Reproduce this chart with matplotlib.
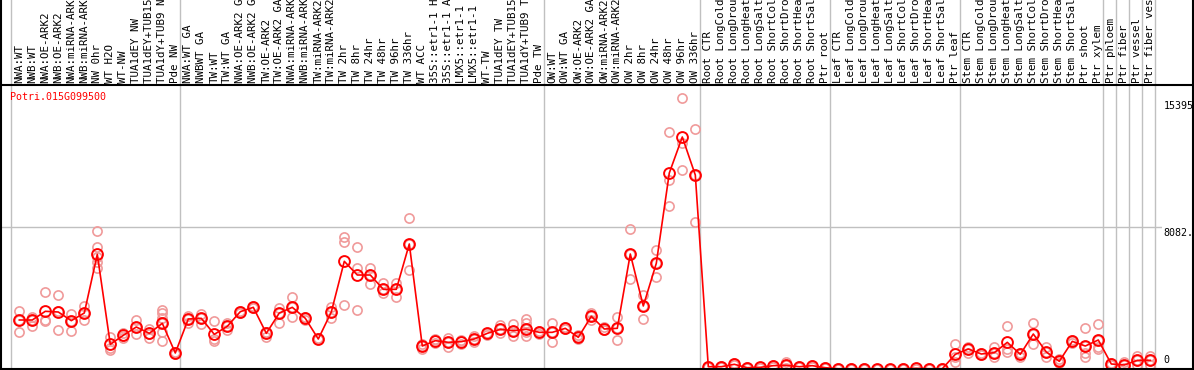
import numpy as np
import matplotlib
matplotlib.use('Agg')
import matplotlib.pyplot as plt
from matplotlib.lines import Line2D

gene = 'Potri.015G099500'

labels = [
    'NWA:WT', 'NWB:WT', 'NWA:OE-ARK2', 'NWB:OE-ARK2', 'NWA:miRNA-ARK2', 'NWB:miRNA-ARK2',
    'NW 0hr', 'WT H2O', 'WT-NW', 'TUA1dEY NW', 'TUA1dEY+TUB15 NW', 'TUA1dY+TUB9 NW', 'Pde NW',
    'NWA:WT GA', 'NWBWT GA', 'TW:WT', 'TW:WT GA', 'NWA:OE-ARK2 GA', 'NWB:OE-ARK2 GA',
    'TW:OE-ARK2', 'TW:OE-ARK2 GA', 'NWA:miRNA-ARK2 GA', 'NWB:miRNA-ARK2 GA', 'TW:miRNA-ARK2',
    'TW:miRNA-ARK2 GA', 'TW 2hr', 'TW 8hr', 'TW 24hr', 'TW 48hr', 'TW 96hr', 'TW 336hr', 'WT ACC',
    '35S::etr1-1 H2O', '35S::etr1-1 ACC', 'LMX5::etr1-1 H2O', 'LMX5::etr1-1 ACC', 'WT-TW',
    'TUA1dEY TW', 'TUA1dEY+TUB15 TW', 'TUA1dY+TUB9 TW', 'Pde TW',
    'OW:WT', 'OW:WT GA', 'OW:OE-ARK2', 'OW:OE-ARK2 GA', 'OW:miRNA-ARK2', 'OW:miRNA-ARK2 GA',
    'OW 2hr', 'OW 8hr', 'OW 24hr', 'OW 48hr', 'OW 96hr', 'OW 336hr',
    'Root CTR', 'Root LongCold', 'Root LongDrought', 'Root LongHeat', 'Root LongSalt',
    'Root ShortCold', 'Root ShortDrought', 'Root ShortHeat', 'Root ShortSalt', 'Ptr root',
    'Leaf CTR', 'Leaf LongCold', 'Leaf LongDrought', 'Leaf LongHeat', 'Leaf LongSalt',
    'Leaf ShortCold', 'Leaf ShortDrought', 'Leaf ShortHeat', 'Leaf ShortSalt', 'Ptr leaf',
    'Stem CTR', 'Stem LongCold', 'Stem LongDrought', 'Stem LongHeat', 'Stem LongSalt',
    'Stem ShortCold', 'Stem ShortDrought', 'Stem ShortHeat', 'Stem ShortSalt', 'Ptr shoot',
    'Ptr xylem', 'Ptr phloem', 'Ptr fiber', 'Ptr vessel', 'Ptr fiber vessel',
]

# first column of each sample group
group_starts = [0, 13, 41, 53, 63, 73, 84, 85, 86, 87]

means = [
    2789, 2789, 3284, 3244, 2751, 3187, 6528, 1404, 1916, 2391, 2030, 2600, 911,
    2846, 2884, 1973, 2429, 3263, 3510, 2030, 3187, 3510, 2884, 1708, 3244, 6128,
    5350, 5350, 4535, 4535, 7115, 1309, 1612, 1518, 1556, 1708, 2030, 2258, 2182,
    2258, 2087,
    2087, 2315, 1802, 2998, 2277, 2315, 6545, 3586, 6015, 11156, 13205, 11042,
    131, 131, 267, 74, 95, 190, 209, 131, 190, 74,
    15, 15, 15, 10, 10, 15, 40, 15, 15, 835,
    1138, 854, 930, 1518, 835, 1992, 968, 437, 1575, 1309, 1651,
    285, 228, 493, 493,
]

reps = [
    [3301, 2789, 2089], [2977, 2789, 2465], [4366, 2789, 2732], [4212, 2220, 3300],
    [3131, 2751, 2146], [3586, 3204, 2789], [7838, 6944, 6400, 6108, 5732],
    [1839, 1178, 1081], [2066, 1878, 1747], [2789, 2391, 1975], [2294, 2009, 1747],
    [3358, 3170, 2886, 2601, 2123, 1594], [880, 911, 940],
    [3000, 2846, 2600], [3131, 2884, 2580], [2732, 1708, 1612], [2600, 2448, 2220],
    [3320, 3263, 3200], [3570, 3510, 3450], [2127, 2030, 1840], [3472, 3170, 2601],
    [4081, 3510, 2977], [2960, 2884, 2790], [1740, 1708, 1680], [3548, 3244, 2884],
    [7531, 7246, 3643], [6944, 5732, 3358], [5732, 5350, 4821], [4878, 4535, 4309],
    [4915, 4535, 4115], [8578, 7115, 5635], [1400, 1309, 1120], [1690, 1650, 1500],
    [1746, 1518, 1270], [1670, 1600, 1400], [1900, 1708, 1556], [2070, 2070, 1950],
    [2487, 2258, 2030], [2544, 2182, 1898], [2828, 2600, 2258, 2100, 1895],
    [2180, 2087, 2000],
    [2601, 2087, 1518], [2380, 2315, 2250], [1950, 1802, 1700], [3180, 2998, 2790],
    [2370, 2240, 2220], [2940, 2315, 1651], [7951, 6545, 5106], [4212, 3586, 2828],
    [6773, 6015, 5236], [13473, 10758, 9278], [15408, 12847, 11327],
    [13643, 11042, 8350],
    [160, 131, 100], [180, 131, 90], [330, 267, 200], [110, 74, 40], [130, 95, 60],
    [250, 190, 130], [381, 209, 40], [170, 131, 90], [250, 190, 130], [110, 74, 40],
    [30, 15, 5], [30, 15, 5], [30, 15, 5], [20, 10, 5], [20, 10, 5], [30, 15, 5],
    [70, 40, 20], [30, 15, 5], [30, 15, 5], [1423, 700, 380],
    [1271, 1138, 892], [900, 854, 800], [1271, 930, 690], [2448, 1138, 970],
    [930, 835, 670], [2600, 1992, 1404], [1271, 968, 690], [550, 437, 320],
    [1670, 1575, 1480], [2315, 1309, 892, 702], [2543, 1651, 1271, 1138],
    [320, 285, 250], [399, 228, 60], [740, 493, 250], [740, 493, 250],
]

ytick_top = 15395
ytick_labels = ['15395', '8082.', '0']

W, H = 1194, 370
fig = plt.figure(figsize=(W / 100, H / 100), dpi=100)

# pixel layout
x_left, x_right = 1, 1162
y_top, y_bot = 85, 369
col0_px, step_px = 19.3, 13.0

ax = fig.add_axes([x_left / W, (H - y_bot) / H, (x_right - x_left) / W, (y_bot - y_top) / H])
top = fig.add_axes([x_left / W, (H - y_top) / H, (x_right - x_left) / W, y_top / H], sharex=ax)

n = len(labels)
x = np.arange(n)
ymax = ytick_top * 1.05
ax.set_xlim((x_left - col0_px) / step_px, (x_right - col0_px) / step_px)
ax.set_ylim(0, ymax)
top.set_ylim(0, 1)
for a in (ax, top):
    a.axis('off')

grey = '#c0c0c0'
for s in group_starts + [n]:
    pos = s - 0.63 if s < n else n - 1 + 0.37
    ax.axvline(pos, color=grey, lw=1, zorder=1)
    top.axvline(pos, color=grey, lw=1, zorder=1)
ax.axhline(ymax / 2, color=grey, lw=1, zorder=1)

font = 'DejaVu Sans Mono'
for i, lab in enumerate(labels):
    top.text(i, 0.025, lab, rotation=90, ha='center', va='bottom',
             fontsize=7.8, family=font, color='black')

# replicates
for i, r in enumerate(reps):
    ax.plot([i] * len(r), r, 'o', ms=6.6, mfc='none', mec='#f09a9a', mew=1.2,
            zorder=2, clip_on=True)

# mean line
ax.plot(x, means, '-', color='red', lw=1.2, zorder=3)
ax.plot(x, means, 'o', ms=7.8, mfc='none', mec='red', mew=1.4, zorder=4)

ax.text(0.0075, 0.975, gene, transform=ax.transAxes, color='red', fontsize=7.2,
        family=font, ha='left', va='top')

# y tick labels at the right
tr = ax.get_yaxis_transform()
for val, lab, dy, va in [(ytick_top, ytick_labels[0], -2, 'top'),
                         (ymax / 2, ytick_labels[1], -1, 'top'),
                         (0, ytick_labels[2], 3, 'bottom')]:
    ax.annotate(lab, xy=(1.0, val), xycoords=tr, xytext=(1, dy),
                textcoords='offset points', ha='left', va=va,
                fontsize=7.2, family=font, annotation_clip=False)

# outer frame
def fline(x0, y0, x1, y1):
    fig.add_artist(Line2D([x0 / W, x1 / W], [1 - y0 / H, 1 - y1 / H],
                          color='black', lw=1.5))

fline(1, 0, 1, H)
fline(W - 1, 0, W - 1, H)
fline(0, y_top, W, y_top)
fline(0, y_bot, W, y_bot)

fig.savefig('out.png', dpi=100)
